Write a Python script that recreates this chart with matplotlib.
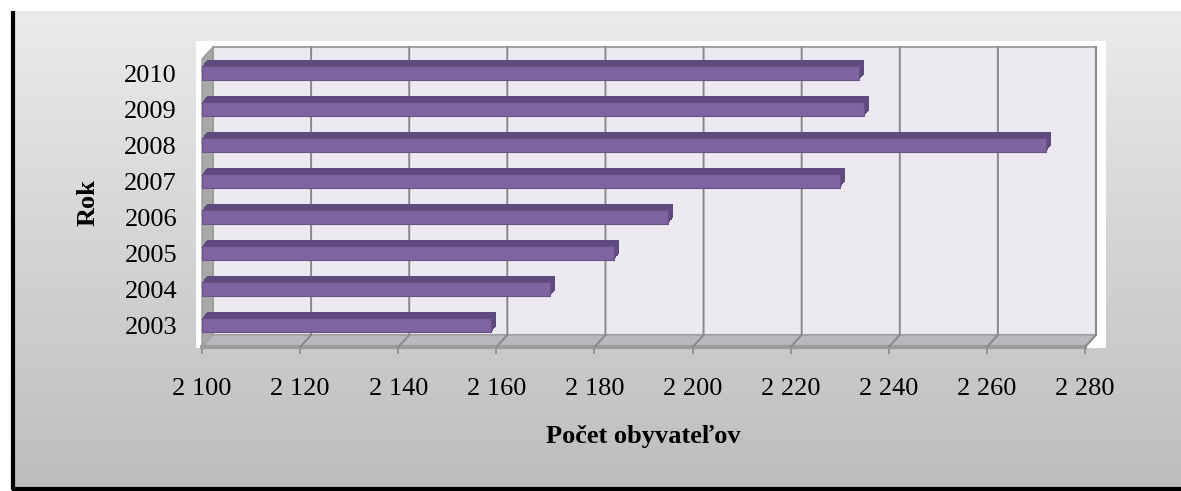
import numpy as np
import matplotlib
matplotlib.use('Agg')
import matplotlib.pyplot as plt
from matplotlib.patches import Rectangle, Polygon
from matplotlib.colors import LinearSegmentedColormap

# data
years = ['2003', '2004', '2005', '2006', '2007', '2008', '2009', '2010']
population = [2159, 2171, 2184, 2195, 2230, 2272, 2235, 2234]
x_ticks = [2100, 2120, 2140, 2160, 2180, 2200, 2220, 2240, 2260, 2280]
x_labels = [('%d' % v)[0] + ' ' + ('%d' % v)[1:] for v in x_ticks]

plt.rcParams['font.family'] = ['Liberation Serif', 'DejaVu Serif']

W, H = 1181, 491
fig = plt.figure(figsize=(W / 100, H / 100), dpi=100)

# background (gradient, white plot box, black border)
bg = fig.add_axes([0, 0, 1, 1], zorder=0)
bg.set_xlim(0, W)
bg.set_ylim(H, 0)
bg.axis('off')
grad = np.linspace(0, 1, 256).reshape(-1, 1)
cmap = LinearSegmentedColormap.from_list('bg', ['#ebebeb', '#bdbdbd'])
bg.imshow(grad, cmap=cmap, extent=(14, W, 489, 11), aspect='auto')
bg.add_patch(Rectangle((196, 41), 910, 307, facecolor='white', edgecolor='none'))
bg.plot([13, 13], [11, 490], color='black', lw=3, solid_capstyle='butt')
bg.plot([12, W], [488.5, 488.5], color='black', lw=3, solid_capstyle='butt')

# main axes = front plane of the 3D box
ax = fig.add_axes([202 / W, (H - 347) / H, 883 / W, 288 / H], zorder=1)
ax.patch.set_alpha(0)
for s in ax.spines.values():
    s.set_visible(False)
xlo, xhi = 2100, 2280
ylo, yhi = -0.61, 7.39
ax.set_xlim(xlo, xhi)
ax.set_ylim(ylo, yhi)

DX = 11 * (xhi - xlo) / 883.0   # depth offset of back wall
DY = 12 / 36.0

# back wall
ax.add_patch(Rectangle((xlo + DX, ylo + DY), xhi - xlo, yhi - ylo,
                       facecolor='#eceaf0', edgecolor='#a3a3a3', lw=1.5,
                       clip_on=False, zorder=1))
# left wall
ax.add_patch(Polygon([(xlo, ylo), (xlo + DX, ylo + DY), (xlo + DX, yhi + DY), (xlo, yhi)],
                     closed=True, facecolor='#a8a8a8', edgecolor='#9a9a9a', lw=1,
                     clip_on=False, zorder=1))
# floor
ax.add_patch(Polygon([(xlo, ylo), (xhi, ylo), (xhi + DX, ylo + DY), (xlo + DX, ylo + DY)],
                     closed=True, facecolor='#b9b9bd', edgecolor='#a0a0a0', lw=1,
                     clip_on=False, zorder=1))
ax.plot([xlo, xhi], [ylo, ylo], color='#9c9c9c', lw=3, clip_on=False, zorder=2)

# gridlines on wall and floor
for v in x_ticks[1:]:
    ax.plot([v + DX, v + DX, v], [yhi + DY, ylo + DY, ylo], color='#888888',
            lw=1.4, clip_on=False, zorder=2)

# bars with simple extrusion
idx = np.arange(len(years))
widths = [p - xlo for p in population]
h = 0.39
bdx = 5 * (xhi - xlo) / 883.0
bdy = 6 / 36.0
for k in np.linspace(1, 0.1, 8):
    ax.barh(idx + k * bdy, widths, left=xlo + k * bdx, height=h,
            color='#5f4a7e', edgecolor='none', zorder=3, clip_on=False)
ax.barh(idx, widths, left=xlo, height=h, color='#8064a2', edgecolor='#6a5189',
        lw=0.8, zorder=4, clip_on=False)

# ticks
ax.set_xticks(x_ticks)
ax.set_xticklabels(x_labels, fontsize=19)
ax.tick_params(axis='x', length=5, width=1.2, color='#8a8a8a', pad=17)
ax.set_yticks(idx)
ax.set_yticklabels(years, fontsize=19)
ax.tick_params(axis='y', length=0, pad=18)

fig.text(88 / W, 1 - 203 / H, 'Rok', rotation=90, ha='center', va='center',
         fontsize=19, fontweight='bold')
fig.text(643 / W, 1 - 437 / H, 'Počet obyvateľov', ha='center', va='center',
         fontsize=19, fontweight='bold')

fig.savefig('out.png', dpi=100)
